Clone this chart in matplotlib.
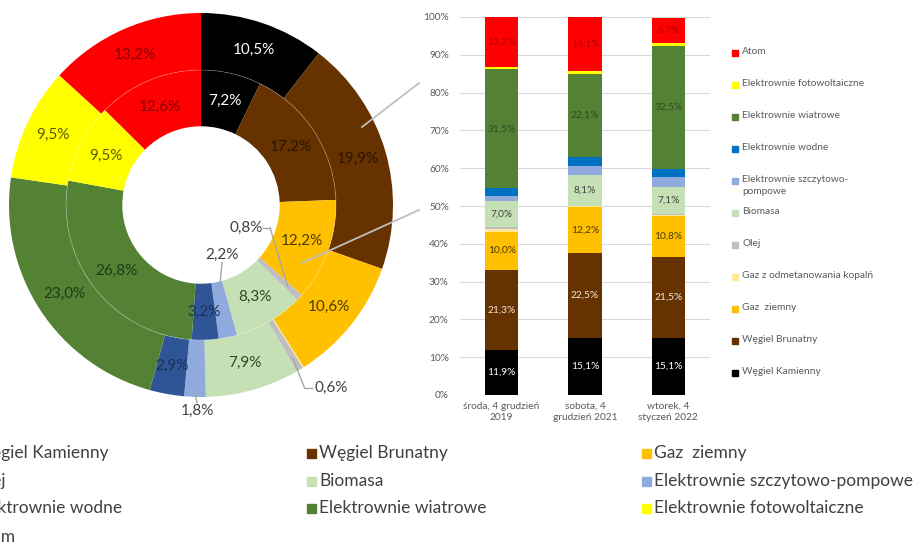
import matplotlib
matplotlib.use('Agg')
import matplotlib.pyplot as plt
from matplotlib.patches import Rectangle
from matplotlib.lines import Line2D
import numpy as np

plt.rcParams['font.family'] = ['Lato', 'DejaVu Sans']

# --- data ---------------------------------------------------------------
sources = ["Węgiel Kamienny", "Węgiel Brunatny", "Gaz  ziemny",
           "Gaz z odmetanowania kopalń", "Olej", "Biomasa",
           "Elektrownie szczytowo-pompowe", "Elektrownie wodne",
           "Elektrownie wiatrowe", "Elektrownie fotowoltaiczne", "Atom"]

donut_inner = [7.2, 17.2, 12.2, 0.0, 0.8, 8.3, 2.2, 3.2, 26.8, 9.5, 12.6]
donut_outer = [10.5, 19.9, 10.6, 0.1, 0.6, 7.9, 1.8, 2.9, 23.0, 9.5, 13.2]

days = ["środa, 4 grudzień\n2019", "sobota, 4\ngrudzień 2021",
        "wtorek, 4\nstyczeń 2022"]
kamienny = [11.9, 15.1, 15.1]
brunatny = [21.3, 22.5, 21.5]
gaz_ziemny = [10.0, 12.2, 10.8]
odmetanowanie = [0.6, 0.1, 0.1]
olej = [0.6, 0.2, 0.4]
biomasa = [7.0, 8.1, 7.1]
szczytowo_pompowe = [1.3, 2.4, 2.6]
wodne = [2.0, 2.3, 2.3]
wiatrowe = [31.5, 22.1, 32.5]
fotowoltaiczne = [0.6, 0.8, 0.7]
atom = [13.2, 14.1, 6.7]
bar_series = [kamienny, brunatny, gaz_ziemny, odmetanowanie, olej, biomasa,
              szczytowo_pompowe, wodne, wiatrowe, fotowoltaiczne, atom]

# --- styles -------------------------------------------------------------
bar_colors = ["#000000", "#663300", "#FFC000", "#FFE699", "#BFBFBF", "#C5E0B4",
              "#8FAADC", "#0070C0", "#548235", "#FFFF00", "#FF0000"]
donut_colors = list(bar_colors)
donut_colors[7] = "#2F5597"
donut_text = ["#FFFFFF", "#2A1400", "#4D3A00", "#4D3A00", "#404040", "#2E4A25",
              "#404040", "#1F2F55", "#1F3A10", "#5A5A00", "#800000"]
bar_text = ["#FFFFFF", "#F2E6D9", "#4D3A00", "#4D3A00", "#404040", "#404040",
            "#404040", "#FFFFFF", "#2E4A20", "#404040", "#B00000"]

W, H = 913, 542
fig = plt.figure(figsize=(W / 100, H / 100), dpi=100)


def fx(px):
    return px / W


def fy(py):
    return 1 - py / H


def pct(v):
    return f"{v:.1f}%".replace(".", ",")


# --- double doughnut ----------------------------------------------------
cx, cy, R = 201, 205, 192
ax = fig.add_axes([fx(cx - R), fy(cy + R), 2 * R / W, 2 * R / H])

r_hole, r_mid = 0.41, 0.703
outer_w, _ = ax.pie(donut_outer, radius=1.0, colors=donut_colors, startangle=90,
                    counterclock=False,
                    wedgeprops=dict(width=1.0 - r_mid, edgecolor='none'))
inner_w, _ = ax.pie(donut_inner, radius=r_mid, colors=donut_colors, startangle=90,
                    counterclock=False,
                    wedgeprops=dict(width=r_mid - r_hole, edgecolor='none'))
ax.add_patch(plt.Circle((0, 0), r_mid, fill=False, ec='#FFFFFF', lw=0.6, alpha=0.25))
# pie() resets the limits, so fix them afterwards
ax.set_xlim(-1, 1)
ax.set_ylim(-1, 1)
ax.axis('off')


def mid_point(w, r):
    a = np.deg2rad((w.theta1 + w.theta2) / 2)
    return r * np.cos(a), r * np.sin(a)


for wedges, vals, rlab in [(outer_w, donut_outer, (1 + r_mid) / 2),
                           (inner_w, donut_inner, (r_mid + r_hole) / 2)]:
    for i, (w, v) in enumerate(zip(wedges, vals)):
        if v >= 2.5:
            x, y = mid_point(w, rlab)
            ax.text(x, y, pct(v), ha='center', va='center', fontsize=11,
                    color=donut_text[i])

# small slices get callout labels
lead = dict(color='#A6A6A6', lw=1.0)
callouts = [  # (wedges, values, index, wedge radius, label xy, elbow xy, ha)
    (inner_w, donut_inner, 4, 0.62, (0.32, -0.12), (0.36, -0.12), 'right'),
    (inner_w, donut_inner, 6, 0.47, (0.11, -0.26), (0.11, -0.30), 'center'),
    (outer_w, donut_outer, 4, 0.93, (0.59, -0.955), (0.54, -0.955), 'left'),
    (outer_w, donut_outer, 6, 0.99, (-0.02, -1.07), (-0.02, -1.03), 'center'),
]
for wedges, vals, i, rw, (lx, ly), (ex, ey), ha in callouts:
    px_, py_ = mid_point(wedges[i], rw)
    ax.plot([ex, px_], [ey, py_], clip_on=False, **lead)
    if ha == 'right':
        ax.plot([lx + 0.005, ex], [ly, ey], clip_on=False, **lead)
    elif ha == 'left':
        ax.plot([lx - 0.01, ex], [ly, ey], clip_on=False, **lead)
    ax.text(lx, ly, pct(vals[i]), ha=ha, va='center', fontsize=11,
            color='#404040', clip_on=False)

# grey pointer lines running in from the right
for (x0, y0), (x1, y1) in [((419, 83), (362, 127)), ((419, 210), (302, 263))]:
    fig.add_artist(Line2D([fx(x0), fx(x1)], [fy(y0), fy(y1)],
                          color='#BFBFBF', lw=1.3))

# --- 100% stacked bars --------------------------------------------------
ax2 = fig.add_axes([fx(460), fy(395), 250 / W, 378 / H])
xpos = np.arange(len(days))
bottom = np.zeros(len(days))
for i, vals in enumerate(bar_series):
    vals = np.array(vals)
    ax2.bar(xpos, vals, 0.4, bottom=bottom, color=bar_colors[i],
            edgecolor='none', zorder=3)
    for xx, b, v in zip(xpos, bottom, vals):
        if v >= 5:
            ax2.text(xx, b + v / 2, pct(v), ha='center', va='center',
                     fontsize=7.3, color=bar_text[i], zorder=4)
    bottom += vals

ax2.set_xlim(-0.5, 2.5)
ax2.set_ylim(0, 100)
ax2.set_yticks(np.arange(0, 101, 10))
ax2.set_yticklabels([f"{v}%" for v in range(0, 101, 10)])
ax2.set_xticks(xpos)
ax2.set_xticklabels(days, linespacing=1.35)
ax2.tick_params(length=0, labelsize=7.3, labelcolor='#595959')
ax2.tick_params(axis='x', pad=5)
ax2.tick_params(axis='y', pad=8)
ax2.grid(axis='y', color='#D9D9D9', lw=0.8, zorder=0)
for s in ax2.spines.values():
    s.set_visible(False)

# legend beside the bars (reverse stack order)
leg_y = 53
for i in range(len(sources) - 1, -1, -1):
    name = sources[i]
    if name == "Elektrownie szczytowo-pompowe":
        name = "Elektrownie szczytowo-\npompowe"
    fig.add_artist(Rectangle((fx(732), fy(leg_y + 3)), 6 / W, 6 / H,
                             color=bar_colors[i], transform=fig.transFigure))
    fig.text(fx(742), fy(leg_y - 6), name, ha='left', va='top', fontsize=7.3,
             color='#595959', linespacing=1.45)
    leg_y += 32

# legend under the doughnut
legend_items = [i for i in range(len(sources)) if i != 3]
col_x = [-38, 307, 642]
row_y = [453, 481, 508, 537]
for k, i in enumerate(legend_items):
    mx = col_x[k % 3]
    my = row_y[k // 3]
    fig.add_artist(Rectangle((fx(mx), fy(my + 4.5)), 9 / W, 9 / H,
                             color=donut_colors[i], transform=fig.transFigure))
    fig.text(fx(mx + 12), fy(my), sources[i], ha='left', va='center',
             fontsize=12.5, color='#404040')

fig.savefig('out.png', dpi=100)
